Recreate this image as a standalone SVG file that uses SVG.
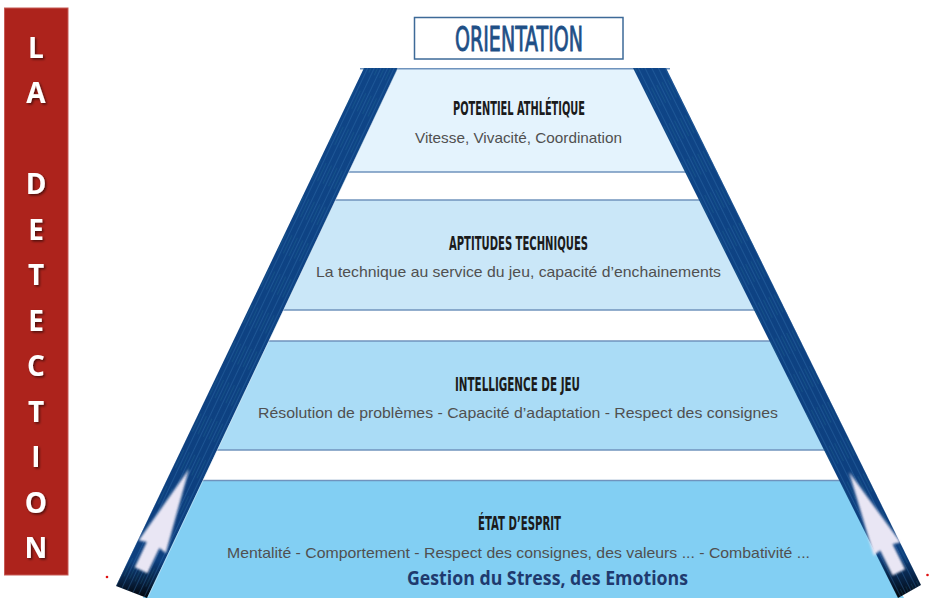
<svg xmlns="http://www.w3.org/2000/svg" width="929" height="598" viewBox="0 0 929 598">
<style>
.title{font-family:"DejaVu Sans Condensed","DejaVu Sans",sans-serif;font-weight:bold;font-size:20px;fill:#1b1b1b;text-anchor:middle}
.body{font-family:"Liberation Sans",Arial,sans-serif;font-size:15px;fill:#505050;text-anchor:middle}
.letter{font-family:"Open Sans","Liberation Sans",sans-serif;font-weight:bold;font-size:28px;fill:#ffffff;text-anchor:middle}
.edge{stroke:#6f93bd;stroke-width:1.5;fill:none}
</style>
<defs>
<linearGradient id="sideL" gradientUnits="userSpaceOnUse" x1="0" y1="68" x2="0" y2="598">
<stop offset="0" stop-color="#0f4587"/>
<stop offset="0.93" stop-color="#0d3f7e"/>
<stop offset="0.97" stop-color="#08203f"/>
<stop offset="1" stop-color="#020408"/>
</linearGradient>
<linearGradient id="sideR" gradientUnits="userSpaceOnUse" x1="0" y1="68" x2="0" y2="598">
<stop offset="0" stop-color="#0f4587"/>
<stop offset="0.92" stop-color="#0d3f7e"/>
<stop offset="0.975" stop-color="#061a33"/>
<stop offset="1" stop-color="#020408"/>
</linearGradient>
<pattern id="streakL" patternUnits="userSpaceOnUse" width="6" height="40" patternTransform="rotate(25.3)">
<rect x="1" y="0" width="0.8" height="40" fill="#3575b3" opacity="0.45"/>
<rect x="4" y="8" width="0.6" height="20" fill="#2e8a9a" opacity="0.35"/>
</pattern>
<pattern id="streakR" patternUnits="userSpaceOnUse" width="6" height="40" patternTransform="rotate(-26.4)">
<rect x="1" y="0" width="0.8" height="40" fill="#3575b3" opacity="0.45"/>
<rect x="4" y="8" width="0.6" height="20" fill="#2e8a9a" opacity="0.35"/>
</pattern>
<filter id="shadow" x="-30%" y="-30%" width="160%" height="160%">
<feDropShadow dx="1.5" dy="1.5" stdDeviation="0.8" flood-color="#000" flood-opacity="0.55"/>
</filter>
<filter id="glow" x="-30%" y="-30%" width="160%" height="160%">
<feGaussianBlur stdDeviation="1.1"/>
</filter>
</defs>
<rect width="929" height="598" fill="#ffffff"/>

<g id="detection">
<rect x="4.5" y="8" width="63.5" height="567" fill="#ad231c" stroke="#c65a55" stroke-width="1"/>
<g filter="url(#shadow)">
<text class="letter" x="36" y="57.5">L</text>
<text class="letter" x="36" y="103">A</text>
<text class="letter" x="36" y="194">D</text>
<text class="letter" x="36" y="239.5">E</text>
<text class="letter" x="36" y="285">T</text>
<text class="letter" x="36" y="330.5">E</text>
<text class="letter" x="36" y="376">C</text>
<text class="letter" x="36" y="421.5">T</text>
<text class="letter" x="36" y="467">I</text>
<text class="letter" x="36" y="512.5">O</text>
<text class="letter" x="36" y="558">N</text>
</g>
</g>

<g id="orientation">
<rect x="414.5" y="17.5" width="208.5" height="41.5" fill="#ffffff" stroke="#3d6a98" stroke-width="1.5"/>
<text x="519" y="51" font-family="'DejaVu Sans Condensed','DejaVu Sans',sans-serif" font-size="34" fill="#1e4f86" stroke="#1e4f86" stroke-width="0.9" text-anchor="middle" textLength="128" lengthAdjust="spacingAndGlyphs">ORIENTATION</text>
</g>

<g id="tier-potentiel">
<polygon points="392,68 639,68 691,172 343,172" fill="#e4f3fd"/>
<line class="edge" x1="360" y1="68.8" x2="670" y2="68.8" stroke="#8ea8c3"/>
<line class="edge" x1="330" y1="172" x2="700" y2="172"/>
<text class="title" x="519" y="115" textLength="132" lengthAdjust="spacingAndGlyphs">POTENTIEL ATHLÉTIQUE</text>
<text class="body" x="518.5" y="143" textLength="207" lengthAdjust="spacingAndGlyphs">Vitesse, Vivacité, Coordination</text>
</g>

<g id="tier-aptitudes">
<polygon points="329,200 705,200 760,310 277,310" fill="#cae7f8"/>
<line class="edge" x1="325" y1="200" x2="710" y2="200"/>
<line class="edge" x1="270" y1="310" x2="765" y2="310"/>
<text class="title" x="518.5" y="250" textLength="139" lengthAdjust="spacingAndGlyphs">APTITUDES TECHNIQUES</text>
<text class="body" x="518.5" y="277" textLength="405" lengthAdjust="spacingAndGlyphs">La technique au service du jeu, capacité d’enchainements</text>
</g>

<g id="tier-intelligence">
<polygon points="263,341 775,341 829,450 211,450" fill="#aadcf6"/>
<line class="edge" x1="258" y1="341" x2="780" y2="341"/>
<line class="edge" x1="205" y1="450" x2="835" y2="450"/>
<text class="title" x="517.5" y="391" textLength="125" lengthAdjust="spacingAndGlyphs">INTELLIGENCE DE JEU</text>
<text class="body" x="518" y="418" textLength="520" lengthAdjust="spacingAndGlyphs">Résolution de problèmes - Capacité d’adaptation - Respect des consignes</text>
</g>

<g id="tier-esprit">
<polygon points="199,480 844,480 904,598 143,598" fill="#82cff3"/>
<line class="edge" x1="195" y1="480.5" x2="848" y2="480.5"/>
<text class="title" x="519.5" y="530" textLength="83" lengthAdjust="spacingAndGlyphs">ÉTAT D’ESPRIT</text>
<text class="body" x="518.5" y="558" textLength="583" lengthAdjust="spacingAndGlyphs">Mentalité - Comportement - Respect des consignes, des valeurs ... - Combativité ...</text>
<text x="547.5" y="585" font-family="'Open Sans','Liberation Sans',sans-serif" font-weight="bold" font-size="19" fill="#1f3a6e" text-anchor="middle" textLength="281" lengthAdjust="spacingAndGlyphs">Gestion du Stress, des Emotions</text>
</g>

<g id="sides">
<polygon points="364,68 398,68 147,598 116,586" fill="url(#sideL)"/>
<polygon points="364,68 398,68 147,598 116,586" fill="url(#streakL)"/>
<line x1="398" y1="68" x2="148" y2="597" stroke="#e8eef6" stroke-width="0.8" opacity="0.6"/>
<polygon points="633,68 666,68 921,585 898,598" fill="url(#sideR)"/>
<polygon points="633,68 666,68 921,585 898,598" fill="url(#streakR)"/>
</g>

<g id="connectors">
<polygon transform="translate(189,469) rotate(25.3)" points="0,0 15,86 7,84 7,112 -7,112 -7,84 -15,86" fill="#e9e6f4" filter="url(#glow)"/>
<polygon transform="translate(849,472) rotate(-26.4)" points="0,0 15,86 7,84 7,112 -7,112 -7,84 -15,86" fill="#e9e6f4" filter="url(#glow)"/>
</g>

<circle cx="107" cy="577" r="1.3" fill="#e01010"/>
<circle cx="927.5" cy="575" r="1.3" fill="#e01010"/>
</svg>
